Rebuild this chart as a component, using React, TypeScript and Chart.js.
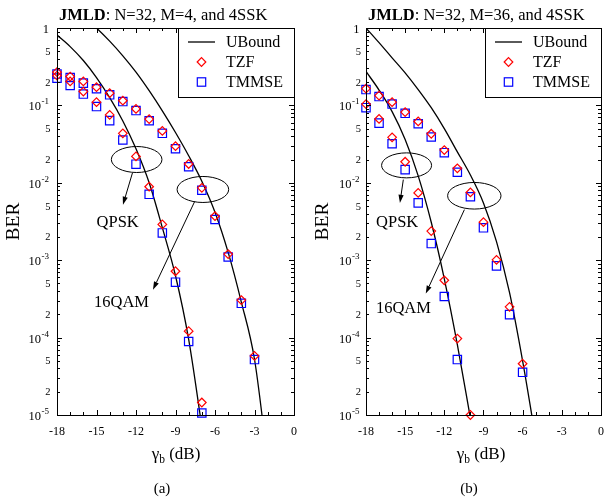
import React, { useEffect, useRef } from "react";
import { Chart, registerables } from "chart.js";
Chart.register(...registerables);

const FONT = "'Liberation Serif', 'Times New Roman', Times, serif";

// ---------------- Panel (a): N=32, M=4 ----------------
const snrA_QPSK = [-18, -17, -16, -15, -14, -13, -12, -11, -10, -9, -8, -7];
const tzfA_QPSK = [0.243, 0.204, 0.151, 0.11, 0.0753, 0.0436, 0.0219, 0.0089, 0.0029, 7.2e-4, 1.21e-4, 1.45e-5];
const tmmseA_QPSK = [0.225, 0.181, 0.14, 0.0966, 0.0636, 0.0357, 0.0174, 0.0071, 0.00225, 5.2e-4, 8.9e-5, 1.06e-5];
const snrA_16QAM = [-18, -17, -16, -15, -14, -13, -12, -11, -10, -9, -8, -7, -6, -5, -4, -3];
const tzfA_16QAM = [0.269, 0.236, 0.204, 0.172, 0.144, 0.115, 0.09, 0.0665, 0.0468, 0.0297, 0.0175, 0.0086, 0.0037, 0.0012, 3.05e-4, 5.8e-5];
const tmmseA_16QAM = [0.254, 0.229, 0.194, 0.164, 0.137, 0.112, 0.0857, 0.0633, 0.0436, 0.0275, 0.0161, 0.008, 0.00336, 0.0011, 2.77e-4, 5.2e-5];
const boundA_QPSK_x = [-18, -17, -16, -15, -14, -13, -12, -11, -10, -9, -8, -7];
const boundA_QPSK = [0.81, 0.575, 0.38, 0.229, 0.126, 0.063, 0.0275, 0.01, 0.00263, 6.3e-4, 9.5e-5, 7.1e-6];
const boundA_16QAM_x = [-16, -15, -14, -13, -12, -11, -10, -9, -8, -7, -6, -5, -4, -3, -2];
const boundA_16QAM = [1.41, 1.0, 0.676, 0.437, 0.269, 0.155, 0.0851, 0.0447, 0.0224, 0.0105, 0.00417, 0.00126, 2.88e-4, 5.25e-5, 2.5e-6];

// ---------------- Panel (b): N=32, M=36 ----------------
const snrB_QPSK = [-18, -17, -16, -15, -14, -13, -12, -11, -10];
const tzfB_QPSK = [0.104, 0.0668, 0.0387, 0.0187, 0.0074, 0.00238, 5.5e-4, 9.7e-5, 1.0e-5];
const tmmseB_QPSK = [0.0935, 0.059, 0.032, 0.0148, 0.0055, 0.00164, 3.4e-4, 5.2e-5, null];
const snrB_16QAM = [-18, -17, -16, -15, -14, -13, -12, -11, -10, -9, -8, -7, -6];
const tzfB_16QAM = [0.165, 0.134, 0.11, 0.082, 0.062, 0.043, 0.0265, 0.0154, 0.0075, 0.0031, 0.00101, 2.5e-4, 4.6e-5];
const tmmseB_16QAM = [0.16, 0.13, 0.104, 0.079, 0.058, 0.039, 0.0245, 0.0137, 0.0066, 0.00262, 8.45e-4, 1.98e-4, 3.56e-5];
const boundB_QPSK_x = [-18, -17, -16, -15, -14, -13, -12, -11, -10];
const boundB_QPSK = [0.275, 0.158, 0.0832, 0.0363, 0.0123, 0.00309, 5.75e-4, 8.1e-5, 9.1e-6];
const boundB_16QAM_x = [-18, -17, -16, -15, -14, -13, -12, -11, -10, -9, -8, -7, -6, -5];
const boundB_16QAM = [1.0, 0.646, 0.412, 0.263, 0.16, 0.0933, 0.0501, 0.0251, 0.0126, 0.0055, 0.00174, 3.8e-4, 5.0e-5, 5.0e-6];

// ---------------- Axes / labels ----------------
const X_MIN = -18;
const X_MAX = 0;
const X_TICKS = [-18, -15, -12, -9, -6, -3, 0];
const Y_MIN = 1e-5;
const Y_MAX = 1;
const LEGEND_LABELS = ["UBound", "TZF", "TMMSE"];
const Y_TITLE = "BER";

type Ann = {
  ellipses: { cx: number; cy: number; rx: number; ry: number }[];
  arrows: { x1: number; y1: number; x2: number; y2: number }[];
  texts: { t: string; x: number; y: number }[];
};

type PanelCfg = {
  titleBold: string;
  titleRest: string;
  caption: string;
  padLeft: number;
  padRight: number;
  yLabelGap: number;
  xTitleX: number;
  captionX: number;
  qx: number[]; tzfQ: (number | null)[]; tmmseQ: (number | null)[];
  sx: number[]; tzfS: (number | null)[]; tmmseS: (number | null)[];
  bqx: number[]; bq: number[]; bsx: number[]; bs: number[];
  ann: Ann;
};

const panelA: PanelCfg = {
  titleBold: "JMLD",
  titleRest: ": N=32, M=4, and 4SSK",
  caption: "(a)",
  padLeft: 57,
  padRight: 10,
  yLabelGap: 8,
  xTitleX: 176,
  captionX: 162,
  qx: snrA_QPSK, tzfQ: tzfA_QPSK, tmmseQ: tmmseA_QPSK,
  sx: snrA_16QAM, tzfS: tzfA_16QAM, tmmseS: tmmseA_16QAM,
  bqx: boundA_QPSK_x, bq: boundA_QPSK, bsx: boundA_16QAM_x, bs: boundA_16QAM,
  ann: {
    ellipses: [
      { cx: -11.95, cy: 0.02, rx: 25.3, ry: 13 },
      { cx: -6.92, cy: 0.0082, rx: 25.8, ry: 13 },
    ],
    arrows: [
      { x1: -12.27, y1: 0.0134, x2: -12.99, y2: 0.0052 },
      { x1: -7.54, y1: 0.00575, x2: -10.71, y2: 4.16e-4 },
    ],
    texts: [
      { t: "QPSK", x: -13.39, y: 0.0031 },
      { t: "16QAM", x: -13.1, y: 2.94e-4 },
    ],
  },
};

const panelB: PanelCfg = {
  titleBold: "JMLD",
  titleRest: ": N=32, M=36, and 4SSK",
  caption: "(b)",
  padLeft: 62,
  padRight: 5,
  yLabelGap: 6.5,
  xTitleX: 177,
  captionX: 165,
  qx: snrB_QPSK, tzfQ: tzfB_QPSK, tmmseQ: tmmseB_QPSK,
  sx: snrB_16QAM, tzfS: tzfB_16QAM, tmmseS: tmmseB_16QAM,
  bqx: boundB_QPSK_x, bq: boundB_QPSK, bsx: boundB_16QAM_x, bs: boundB_16QAM,
  ann: {
    ellipses: [
      { cx: -14.89, cy: 0.0168, rx: 25, ry: 12.5 },
      { cx: -9.7, cy: 0.0068, rx: 26.7, ry: 13.3 },
    ],
    arrows: [
      { x1: -15.14, y1: 0.011, x2: -15.4, y2: 0.0055 },
      { x1: -10.46, y1: 0.0045, x2: -13.42, y2: 3.7e-4 },
    ],
    texts: [
      { t: "QPSK", x: -15.61, y: 0.00317 },
      { t: "16QAM", x: -15.13, y: 2.43e-4 },
    ],
  },
};

const RED = "#ff0000";
const BLUE = "#0000ff";

function pts(xs: number[], ys: (number | null)[]) {
  return xs.map((x, i) => ({ x, y: ys[i] }));
}

function drawDiamond(ctx: CanvasRenderingContext2D, x: number, y: number, r: number) {
  ctx.beginPath();
  ctx.moveTo(x - r, y);
  ctx.lineTo(x, y - r);
  ctx.lineTo(x + r, y);
  ctx.lineTo(x, y + r);
  ctx.closePath();
  ctx.stroke();
}

function makeDecor(p: PanelCfg) {
  return {
    id: "decor",
    afterDraw(chart: any) {
      const ctx = chart.ctx as CanvasRenderingContext2D;
      const a = chart.chartArea;
      const xs = chart.scales.x;
      const ys = chart.scales.y;
      const L = Math.round(a.left);
      const R = Math.round(a.right);
      const T = Math.round(a.top);
      const B = Math.round(a.bottom);
      ctx.save();
      ctx.strokeStyle = "#000";
      ctx.fillStyle = "#000";
      ctx.lineWidth = 1;

      // ticks
      ctx.beginPath();
      for (let v = X_MIN; v <= X_MAX; v++) {
        const x = Math.round(xs.getPixelForValue(v)) + 0.5;
        const len = v % 3 === 0 ? 5 : 3;
        ctx.moveTo(x, B); ctx.lineTo(x, B - len);
        ctx.moveTo(x, T); ctx.lineTo(x, T + len);
      }
      for (let e = -5; e <= 0; e++) {
        for (let m = 1; m <= 9; m++) {
          const v = m * Math.pow(10, e);
          if (v > 1.0001) break;
          const y = Math.round(ys.getPixelForValue(v)) + 0.5;
          const len = m === 1 ? 5 : 3;
          ctx.moveTo(L, y); ctx.lineTo(L + len, y);
          ctx.moveTo(R, y); ctx.lineTo(R - len, y);
        }
      }
      ctx.stroke();
      ctx.strokeRect(L + 0.5, T + 0.5, R - L, B - T);

      // x tick labels
      ctx.font = `12px ${FONT}`;
      ctx.textAlign = "center";
      ctx.textBaseline = "alphabetic";
      for (const v of X_TICKS) {
        ctx.fillText(String(v), xs.getPixelForValue(v), B + 20);
      }

      // y tick labels
      const xr = L - p.yLabelGap;
      ctx.textAlign = "left";
      for (let e = 0; e >= -5; e--) {
        const py = ys.getPixelForValue(Math.pow(10, e));
        if (e === 0) {
          ctx.font = `12.5px ${FONT}`;
          const w = ctx.measureText("1").width;
          ctx.fillText("1", xr - w, py + 4.5);
        } else {
          ctx.font = `9px ${FONT}`;
          const sup = String(e);
          const sw = ctx.measureText(sup).width;
          ctx.fillText(sup, xr - sw, py - 1);
          ctx.font = `12.5px ${FONT}`;
          const tw = ctx.measureText("10").width;
          ctx.fillText("10", xr - sw - tw - 0.5, py + 5);
        }
        if (e < 0) {
          ctx.font = `10.5px ${FONT}`;
          for (const m of [5, 2]) {
            const v = m * Math.pow(10, e);
            const yy = ys.getPixelForValue(v);
            const w = ctx.measureText(String(m)).width;
            ctx.fillText(String(m), xr + 1.5 - w, yy + 3.5);
          }
        }
      }

      // title
      ctx.font = `bold 16.5px ${FONT}`;
      const bw = ctx.measureText(p.titleBold).width;
      ctx.fillText(p.titleBold, L + 2, 19.5);
      ctx.font = `16.5px ${FONT}`;
      ctx.fillText(p.titleRest, L + 2 + bw, 19.5);

      // y title
      ctx.save();
      ctx.translate(L - 43, (T + B) / 2);
      ctx.rotate(-Math.PI / 2);
      ctx.font = `19.5px ${FONT}`;
      ctx.textAlign = "center";
      ctx.textBaseline = "middle";
      ctx.fillText(Y_TITLE, 0, 0);
      ctx.restore();

      // x title: gamma_b (dB)
      ctx.textAlign = "left";
      ctx.font = `17px ${FONT}`;
      const g = "\u03B3";
      const rest = " (dB)";
      const gw = ctx.measureText(g).width;
      const rw = ctx.measureText(rest).width;
      ctx.font = `11.5px ${FONT}`;
      const sbw = ctx.measureText("b").width;
      const total = gw + sbw + rw;
      let cx = p.xTitleX - total / 2;
      const by = 459;
      ctx.font = `17px ${FONT}`;
      ctx.fillText(g, cx, by);
      cx += gw;
      ctx.font = `11.5px ${FONT}`;
      ctx.fillText("b", cx, by + 3.5);
      cx += sbw;
      ctx.font = `17px ${FONT}`;
      ctx.fillText(rest, cx, by);

      // caption
      ctx.font = `15px ${FONT}`;
      ctx.textAlign = "center";
      ctx.fillText(p.caption, p.captionX, 493);

      // annotations
      ctx.lineWidth = 1;
      for (const el of p.ann.ellipses) {
        const ex = xs.getPixelForValue(el.cx);
        const ey = ys.getPixelForValue(el.cy);
        ctx.beginPath();
        ctx.ellipse(ex, ey, el.rx, el.ry, 0, 0, Math.PI * 2);
        ctx.stroke();
      }
      for (const ar of p.ann.arrows) {
        const x1 = xs.getPixelForValue(ar.x1), y1 = ys.getPixelForValue(ar.y1);
        const x2 = xs.getPixelForValue(ar.x2), y2 = ys.getPixelForValue(ar.y2);
        const ang = Math.atan2(y2 - y1, x2 - x1);
        const hl = 8, hw = 2.6;
        const bx = x2 - hl * Math.cos(ang), byy = y2 - hl * Math.sin(ang);
        ctx.beginPath();
        ctx.moveTo(x1, y1);
        ctx.lineTo(bx, byy);
        ctx.stroke();
        ctx.beginPath();
        ctx.moveTo(x2, y2);
        ctx.lineTo(bx + hw * Math.sin(ang), byy - hw * Math.cos(ang));
        ctx.lineTo(bx - hw * Math.sin(ang), byy + hw * Math.cos(ang));
        ctx.closePath();
        ctx.fill();
      }
      ctx.font = `16.5px ${FONT}`;
      ctx.textAlign = "center";
      ctx.textBaseline = "middle";
      for (const t of p.ann.texts) {
        ctx.fillText(t.t, xs.getPixelForValue(t.x), ys.getPixelForValue(t.y) + 1);
      }

      // legend
      const lw = 116, lh = 69;
      const lx = R - lw, ly = T;
      ctx.fillStyle = "#fff";
      ctx.fillRect(lx, ly, lw, lh);
      ctx.strokeStyle = "#000";
      ctx.lineWidth = 1;
      ctx.strokeRect(lx + 0.5, ly + 0.5, lw, lh);
      const rows = [ly + 14, ly + 34, ly + 54];
      ctx.lineWidth = 1.3;
      ctx.beginPath();
      ctx.moveTo(lx + 10, rows[0]);
      ctx.lineTo(lx + 37, rows[0]);
      ctx.stroke();
      ctx.lineWidth = 1.2;
      ctx.strokeStyle = RED;
      drawDiamond(ctx, lx + 23.5, rows[1], 4.3);
      ctx.strokeStyle = BLUE;
      ctx.strokeRect(lx + 23.5 - 4.2, rows[2] - 4.2, 8.4, 8.4);
      ctx.fillStyle = "#000";
      ctx.font = `16px ${FONT}`;
      ctx.textAlign = "left";
      ctx.textBaseline = "middle";
      LEGEND_LABELS.forEach((s, i) => ctx.fillText(s, lx + 48, rows[i] + 1));

      ctx.restore();
    },
  };
}

function PanelChart({ p, left }: { p: PanelCfg; left: number }) {
  const ref = useRef<HTMLCanvasElement | null>(null);
  useEffect(() => {
    if (!ref.current) return;
    const lineDs = (xs: number[], ys: number[]) => ({
      label: "UBound",
      data: pts(xs, ys),
      borderColor: "#000",
      borderWidth: 1.3,
      pointRadius: 0,
      showLine: true,
      fill: false,
      cubicInterpolationMode: "monotone",
    });
    const markDs = (label: string, xs: number[], ys: (number | null)[], style: string, r: number, color: string) => ({
      label,
      data: pts(xs, ys),
      showLine: false,
      pointStyle: style,
      pointRadius: r,
      pointBorderColor: color,
      pointBackgroundColor: "rgba(0,0,0,0)",
      pointBorderWidth: 1.2,
      borderColor: color,
      backgroundColor: "rgba(0,0,0,0)",
      clip: false,
    });
    const chart = new Chart(ref.current, {
      type: "line",
      data: {
        datasets: [
          markDs("TZF", p.qx, p.tzfQ, "rectRot", 4.3, RED),
          markDs("TZF", p.sx, p.tzfS, "rectRot", 4.3, RED),
          markDs("TMMSE", p.qx, p.tmmseQ, "rect", 5.9, BLUE),
          markDs("TMMSE", p.sx, p.tmmseS, "rect", 5.9, BLUE),
          lineDs(p.bqx, p.bq),
          lineDs(p.bsx, p.bs),
        ] as any,
      },
      options: {
        responsive: false,
        animation: false,
        devicePixelRatio: 1,
        events: [],
        layout: { padding: { left: p.padLeft, right: p.padRight, top: 28, bottom: 85 } },
        scales: {
          x: { type: "linear", min: X_MIN, max: X_MAX, display: false },
          y: { type: "logarithmic", min: Y_MIN, max: Y_MAX, display: false },
        },
        plugins: { legend: { display: false }, tooltip: { enabled: false }, title: { display: false } },
      } as any,
      plugins: [makeDecor(p) as any],
    });
    return () => chart.destroy();
  }, [p]);
  return (
    <canvas
      ref={ref}
      width={304}
      height={500}
      style={{ position: "absolute", left, top: 0, width: 304, height: 500, display: "block" }}
    />
  );
}

export default function App() {
  return (
    <div style={{ position: "absolute", left: 0, top: 0, width: 608, height: 500, background: "#fff" }}>
      <PanelChart p={panelA} left={0} />
      <PanelChart p={panelB} left={304} />
    </div>
  );
}
